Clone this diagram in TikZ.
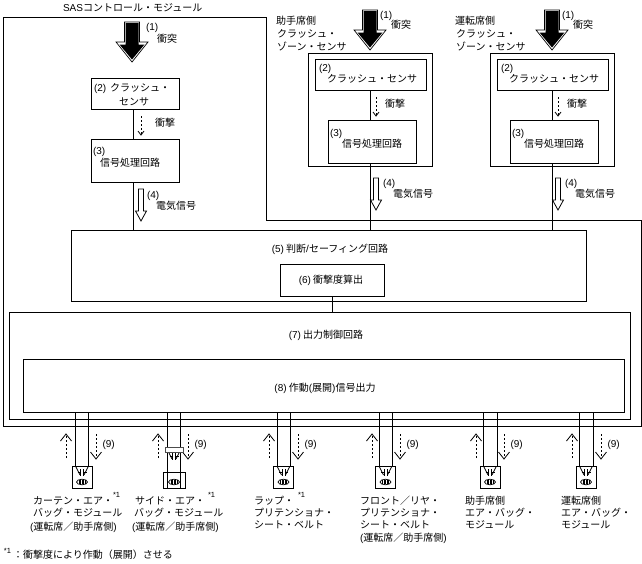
\documentclass[tikz,border=0pt]{standalone}
\usepackage{fontspec}
\setmainfont{Noto Sans CJK JP}
\newfontfamily\lat{Liberation Sans}
\tikzset{
  x=1pt,y=-1pt,
  ln/.style={draw=black,line width=0.75pt},
  bx/.style={ln,fill=white,inner sep=0pt,outer sep=0pt},
  tx/.style={inner sep=0pt,outer sep=0pt,anchor=base west,font=\fontsize{10}{12}\selectfont},
  tc/.style={tx,anchor=base},
  sup/.style={tx,font=\lat\fontsize{7.5}{9}\selectfont},
  dsh/.style={line width=0.75pt,dash pattern=on 2.2pt off 1.8pt},
  tip/.style={line width=0.8pt},
  pics/bigarrow/.style={code={
    \draw[line width=0.7pt,fill=white] (-7.5,0) -- (7.5,0) -- (7.5,20) -- (16,20) -- (0,40) -- (-16,20) -- (-7.5,20) -- cycle;
    \fill (-6.5,1) -- (6.5,1) -- (6.5,22.5) -- (12.5,22.5) -- (0,37.5) -- (-12.5,22.5) -- (-6.5,22.5) -- cycle;
  }},
  pics/hollow/.style={code={
    \draw[line width=0.8pt,fill=white] (-2.5,0) -- (2.5,0) -- (2.5,22) -- (5.5,22) -- (0,32) -- (-5.5,22) -- (-2.5,22) -- cycle;
  }},
  pics/dashdown/.style={code={
    \draw[dsh] (0,0) -- (0,#1);
    \draw[tip] (-3,#1-4) -- (0,#1) -- (3,#1-4);
  }},
  pics/dup/.style={code={
    \draw[dsh] (0,24) -- (0,0);
    \draw[tip] (-5.5,7) -- (0,0) -- (5.5,7);
  }},
  pics/ddown/.style={code={
    \draw[dsh] (0,0) -- (0,24);
    \draw[tip] (-5.5,18) -- (0,25) -- (5.5,18);
  }},
  pics/squib/.style={code={
    \draw[line width=0.7pt] (-6,0) -- (-2,8) (6,0) -- (2,8);
    \draw[line width=0.7pt] (-1.5,2) -- (-1.5,9) (-4.5,5) -- (-1.5,5);
    \draw[line width=0.7pt] (1.5,2) -- (1.5,9) (4.5,5) -- (1.5,5);
  }},
  pics/oval/.style={code={
    \draw[line width=0.7pt] (0,0) ellipse (5.5 and 2.8);
    \foreach \i in {-3,-1.5,0,1.5,3} \draw[line width=0.6pt] (\i,-1.8) -- (\i,1.8);
  }}
}
\begin{document}
\begin{tikzpicture}
\useasboundingbox (0,0) rectangle (642,563);
% SAS outer outline
\coordinate (sasA) at (3,17);
\coordinate (sasB) at (266.5,17);
\coordinate (sasC) at (266.5,220);
\coordinate (sasD) at (641,220);
\coordinate (sasE) at (641,426);
\coordinate (sasF) at (3,426);
\draw[ln] (sasA) -- (sasB) -- (sasC) -- (sasD) -- (sasE) -- (sasF) -- cycle;
\node[tx] (tSas) at (63,11.5) {{\lat SAS}コントロール・モジュール};
% column axes
\coordinate (colA) at (133,0);
\coordinate (colB) at (370,0);
\coordinate (colC) at (552,0);
% left column
\node[bx,minimum width=88pt,minimum height=31pt] (a2) at (135,93.5) {};
\node[bx,minimum width=88pt,minimum height=43pt] (a3) at (135,160.5) {};
% zone sensors
\node[bx,minimum width=124pt,minimum height=113pt] (bO) at (370,109.5) {};
\node[bx,minimum width=111pt,minimum height=31pt] (b2) at (371,75) {};
\node[bx,minimum width=88pt,minimum height=43pt] (b3) at (372,141.5) {};
\node[bx,minimum width=124pt,minimum height=113pt] (cO) at (552,109.5) {};
\node[bx,minimum width=111pt,minimum height=31pt] (c2) at (553,75) {};
\node[bx,minimum width=88pt,minimum height=43pt] (c3) at (554,141.5) {};
% central
\node[bx,minimum width=515pt,minimum height=71pt] (d5) at (328.5,265.5) {};
\node[bx,minimum width=104pt,minimum height=32pt] (d6) at (332,280) {};
\node[bx,minimum width=621pt,minimum height=107pt] (d7) at (319.5,365.5) {};
\node[bx,minimum width=601pt,minimum height=53pt] (d8) at (323.5,386) {};
% connectors
\draw[ln] (colA |- a2.south) -- (colA |- a3.north);
\draw[ln] (colA |- a3.south) -- (colA |- d5.north);
\draw[ln] (colB |- b2.south) -- (colB |- b3.north);
\draw[ln] (colB |- b3.south) -- (colB |- d5.north);
\draw[ln] (colC |- c2.south) -- (colC |- c3.north);
\draw[ln] (colC |- c3.south) -- (colC |- d5.north);
\draw[ln] (d6.south) -- (d6.south |- d7.north);
% big arrows
\pic at (132,22) {bigarrow};
\pic at (370,10) {bigarrow};
\pic at (552,10) {bigarrow};
% dashed arrows inside
\pic at (141,116) {dashdown=19};
\pic at (376,97) {dashdown=19};
\pic at (558,97) {dashdown=19};
% hollow arrows
\pic at (141,189) {hollow};
\pic at (376,178) {hollow};
\pic at (558,178) {hollow};
% texts left column
\node[tx] (t1a) at (146,30) {\lat (1)};
\node[tx] (t1b) at (157,42) {衝突};
\node[tx] (t2a) at (94,91) {\lat (2)};
\node[tx] (t2b) at (110,91) {クラッシュ・};
\node[tx] (t2c) at (119,105) {センサ};
\node[tx] (t2d) at (155,126) {衝撃};
\node[tx] (t3a) at (93,154) {\lat (3)};
\node[tx] (t3b) at (100,166) {信号処理回路};
\node[tx] (t4a) at (147,198) {\lat (4)};
\node[tx] (t4b) at (156,209) {電気信号};
% zone labels
\node[tx] (z1a) at (276,24) {助手席側};
\node[tx] (z1b) at (277,37) {クラッシュ・};
\node[tx] (z1c) at (277,50) {ゾーン・センサ};
\node[tx] (z2a) at (455,24) {運転席側};
\node[tx] (z2b) at (456,37) {クラッシュ・};
\node[tx] (z2c) at (456,50) {ゾーン・センサ};
% zone 1 texts
\node[tx] (u1a) at (380,18) {\lat (1)};
\node[tx] (u1b) at (391,28) {衝突};
\node[tx] (u2a) at (319,71) {\lat (2)};
\node[tx] (u2b) at (327,82) {クラッシュ・センサ};
\node[tx] (u2d) at (385,107) {衝撃};
\node[tx] (u3a) at (330,136) {\lat (3)};
\node[tx] (u3b) at (342,147) {信号処理回路};
\node[tx] (u4a) at (383,186) {\lat (4)};
\node[tx] (u4b) at (393,197) {電気信号};
% zone 2 texts
\node[tx] (v1a) at (562,18) {\lat (1)};
\node[tx] (v1b) at (573,28) {衝突};
\node[tx] (v2a) at (501,71) {\lat (2)};
\node[tx] (v2b) at (509,82) {クラッシュ・センサ};
\node[tx] (v2d) at (567,107) {衝撃};
\node[tx] (v3a) at (512,136) {\lat (3)};
\node[tx] (v3b) at (524,147) {信号処理回路};
\node[tx] (v4a) at (565,186) {\lat (4)};
\node[tx] (v4b) at (575,197) {電気信号};
% central texts
\node[tc] (t5) at (330,252) {{\lat (5)} 判断{\lat /}セーフィング回路};
\node[tc] (t6) at (331,283) {{\lat (6)} 衝撃度算出};
\node[tc] (t7) at (326,338) {{\lat (7)} 出力制御回路};
\node[tc] (t8) at (325,391) {{\lat (8)} 作動{\lat (}展開{\lat )}信号出力};
% output pairs
\foreach \n/\l/\r/\u/\d in {p/75/88/66/96,q/167/180/158/188,r/277/290/269/298,s/379/392/372/400,w/483/497/476/504,z/579/593/572/601}{
  \coordinate (\n L) at (\l,466);
  \coordinate (\n R) at (\r,466);
  \draw[ln] (\n L |- d8.south) -- (\n L);
  \draw[ln] (\n R |- d8.south) -- (\n R);
  \pic at (\u,434) {dup};
  \pic at (\d,434) {ddown};
  \node[tx] (lab\n) at (\d+6.5,447) {\lat (9)};
}
% modules
\foreach \n/\m in {p/82,r/283.5,s/385.5,w/490,z/586}{
  \node[bx,fill=none,minimum width=20pt,minimum height=22pt] (mod\n) at (\m,477) {};
  \pic at (\m,467) {squib};
  \pic at (\m,482) {oval};
}
% side module
\node[bx,fill=none,minimum width=22pt,minimum height=16pt] (modq) at (174,480) {};
\draw[ln] (qL) -- (qL |- modq.south);
\draw[ln] (qR) -- (qR |- modq.south);
\pic at (174,451) {squib};
\pic at (174,482) {oval};
\node[bx,fill=white,minimum width=18pt,minimum height=5pt,draw=black!70] (band) at (174,449.5) {};
% bottom labels
\node[tx] (m1a) at (33,504) {カーテン・エア・};
\node[sup] (m1s) at (113,497) {*1};
\node[tx] (m1b) at (33,516) {バッグ・モジュール};
\node[tx] (m1c) at (30,530) {{\lat (}運転席／助手席側{\lat )}};
\node[tx] (m2a) at (135,504) {サイド・エア・};
\node[sup] (m2s) at (208,497) {*1};
\node[tx] (m2b) at (134,516) {バッグ・モジュール};
\node[tx] (m2c) at (132,530) {{\lat (}運転席／助手席側{\lat )}};
\node[tx] (m3a) at (254,504) {ラップ・};
\node[sup] (m3s) at (298,497) {*1};
\node[tx] (m3b) at (254,516) {プリテンショナ・};
\node[tx] (m3c) at (254,528) {シート・ベルト};
\node[tx] (m4a) at (360,504) {フロント／リヤ・};
\node[tx] (m4b) at (360,516) {プリテンショナ・};
\node[tx] (m4c) at (360,528) {シート・ベルト};
\node[tx] (m4d) at (360,541) {{\lat (}運転席／助手席側{\lat )}};
\node[tx] (m5a) at (465,504) {助手席側};
\node[tx] (m5b) at (465,516) {エア・バッグ・};
\node[tx] (m5c) at (465,528) {モジュール};
\node[tx] (m6a) at (561,504) {運転席側};
\node[tx] (m6b) at (561,516) {エア・バッグ・};
\node[tx] (m6c) at (561,528) {モジュール};
\node[sup] (fns) at (4,553) {*1};
\node[tx] (fn) at (13,558) {：衝撃度により作動（展開）させる};
\end{tikzpicture}
\end{document}
